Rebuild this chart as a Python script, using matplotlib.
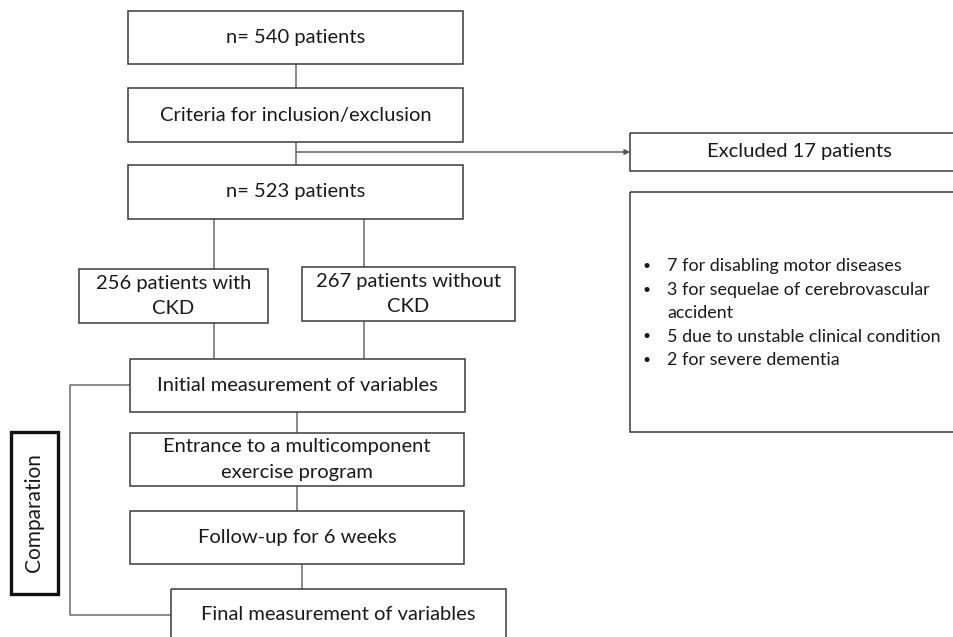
import matplotlib
matplotlib.use("Agg")
import matplotlib.pyplot as plt
from matplotlib.patches import Rectangle

plt.rcParams['font.family'] = ['Lato', 'DejaVu Sans']

# ---- content ----
box_labels = [
    "n= 540 patients",
    "Criteria for inclusion/exclusion",
    "n= 523 patients",
    "256 patients with\nCKD",
    "267 patients without\nCKD",
    "Initial measurement of variables",
    "Entrance to a multicomponent\nexercise program",
    "Follow-up for 6 weeks",
    "Final measurement of variables",
]
excluded_label = "Excluded 17 patients"
exclusion_reasons = [
    "7 for disabling motor diseases",
    "3 for sequelae of cerebrovascular\naccident",
    "5 due to unstable clinical condition",
    "2 for severe dementia",
]
side_label = "Comparation"

# ---- layout (pixel coordinates: x0, y0, x1, y1) ----
box_layout = [
    (128, 11, 463, 64),
    (128, 88, 463, 142),
    (128, 165, 463, 219),
    (79, 269, 268, 323),
    (302, 267, 515, 321),
    (130, 359, 465, 412),
    (130, 433, 464, 486),
    (130, 511, 464, 564),
    (171, 589, 506, 660),
]
excl_box = (630, 133, 970, 171)
reason_box = (630, 192, 970, 432)
side_box = (11, 432, 58, 594)

W, H = 954, 637
fig = plt.figure(figsize=(W / 100, H / 100), dpi=100)
ax = fig.add_axes([0, 0, 1, 1])
ax.set_xlim(0, W)
ax.set_ylim(H, 0)
ax.axis('off')

line_c = '#6b6b6b'
edge_c = '#3a3a3a'
txt_c = '#1a1a1a'
FS = 14.5
FS_SMALL = 12.9


def box(b, lw=1.1, ec=edge_c):
    x0, y0, x1, y1 = b
    ax.add_patch(Rectangle((x0, y0), x1 - x0, y1 - y0, fill=False,
                           ec=ec, lw=lw, zorder=3))


def line(xs, ys):
    ax.plot(xs, ys, color=line_c, lw=1.1, zorder=2, solid_capstyle='butt')


# boxes + labels
for lab, b in zip(box_labels, box_layout):
    box(b)
    x0, y0, x1, y1 = b
    yc = (y0 + y1) / 2 if y1 <= H else 615
    parts = lab.split('\n')
    n = len(parts)
    for k, part in enumerate(parts):
        ax.text((x0 + x1) / 2, yc + (k - (n - 1) / 2) * 26, part,
                ha='center', va='center', fontsize=FS, color=txt_c, zorder=4)

# connectors
line([296, 296], [64, 88])
line([296, 296], [142, 165])
line([214, 214], [219, 269])
line([364, 364], [219, 267])
line([214, 214], [323, 359])
line([364, 364], [321, 359])
line([297, 297], [412, 433])
line([297, 297], [486, 511])
line([302, 302], [564, 589])

# excluded arrow
ax.annotate('', xy=(630, 152), xytext=(296, 152),
            arrowprops=dict(arrowstyle='-|>', color='#555555', lw=1.0,
                            mutation_scale=8, shrinkA=0, shrinkB=0), zorder=2)

# excluded boxes
box(excl_box)
ax.text(799, 152, excluded_label, ha='center', va='center', fontsize=FS,
        color=txt_c, zorder=4)
box(reason_box)
y = 266
for r in exclusion_reasons:
    ax.text(643, y, '•', ha='left', va='center', fontsize=10, color=txt_c)
    parts = r.split('\n')
    for k, part in enumerate(parts):
        ax.text(667, y + k * 23.5, part, ha='left', va='center',
                fontsize=FS_SMALL, color=txt_c)
    y += 23.5 * len(parts)

# comparison bracket
line([130, 70, 70, 171], [385, 385, 615, 615])
box(side_box, lw=2.4, ec='#111111')
ax.text((side_box[0] + side_box[2]) / 2, (side_box[1] + side_box[3]) / 2,
        side_label, rotation=90, ha='center', va='center', fontsize=15,
        color=txt_c)

fig.savefig('out.png', dpi=100)
